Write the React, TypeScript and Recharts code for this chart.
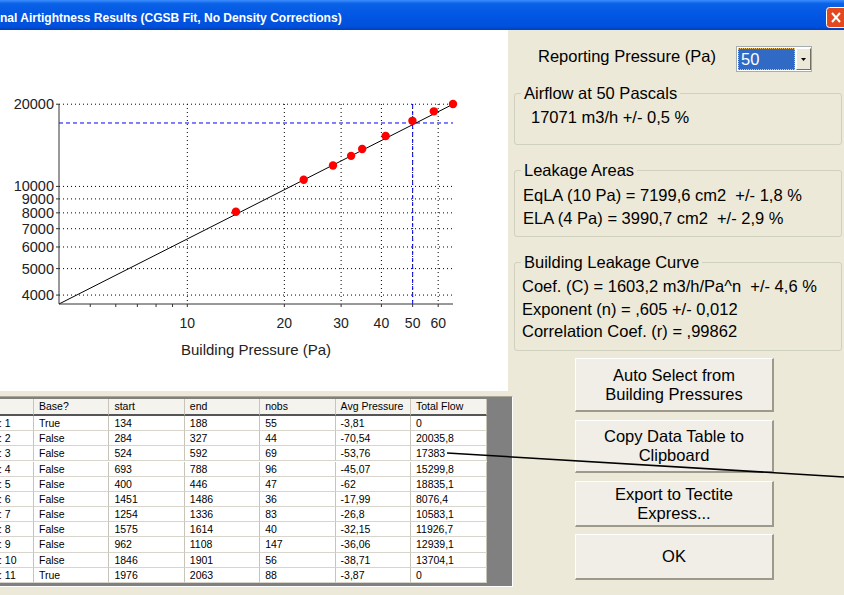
import React from 'react';
import {
  ComposedChart, Scatter, Line, XAxis, YAxis, CartesianGrid, ReferenceLine
} from 'recharts';

// chart values (baseline-corrected building pressure vs. flow)
const pressures = [66.7, 49.92, 41.23, 58.16, 14.15, 22.96, 28.31, 32.22, 34.87];
const flows = [20035.8, 17383, 15299.8, 18835.1, 8076.4, 10583.1, 11926.7, 12939.1, 13704.1];
const fitPressures = [4, 66.7];
const fitFlows = [3710, 20000];
const xTicks = [5, 6, 7, 8, 9, 10, 20, 30, 40, 50, 60];
const xLabelled = [10, 20, 30, 40, 50, 60];
const xGrid = [10, 20, 30, 40, 50, 60];
const yTicks = [4000, 5000, 6000, 7000, 8000, 9000, 10000, 20000];
const reportPressure = 50;
const reportFlow = 17071;

// data table
const tableHeaders = ['', 'Base?', 'start', 'end', 'nobs', 'Avg Pressure', 'Total Flow'];
const rowIds = [1, 2, 3, 4, 5, 6, 7, 8, 9, 10, 11];
const baseFlags = ['True', 'False', 'False', 'False', 'False', 'False', 'False', 'False', 'False', 'False', 'True'];
const starts = [134, 284, 524, 693, 400, 1451, 1254, 1575, 962, 1846, 1976];
const ends = [188, 327, 592, 788, 446, 1486, 1336, 1614, 1108, 1901, 2063];
const nobs = [55, 44, 69, 96, 47, 36, 83, 40, 147, 56, 88];
const avgPressures = ['-3,81', '-70,54', '-53,76', '-45,07', '-62', '-17,99', '-26,8', '-32,15', '-36,06', '-38,71', '-3,87'];
const totalFlows = ['0', '20035,8', '17383', '15299,8', '18835,1', '8076,4', '10583,1', '11926,7', '12939,1', '13704,1', '0'];

const points = pressures.map((p, i) => ({ p, flow: flows[i] }));
const fitData = fitPressures.map((p, i) => ({ p, flow: fitFlows[i] }));

const FONT = '"Liberation Sans", Arial, sans-serif';
const WIN_BG = '#ECE9D8';

const XTick = ({ x, y, payload }: any) =>
  xLabelled.includes(payload.value) ? (
    <text x={x} y={y + 19} textAnchor="middle" fontSize={14} fill="#222" fontFamily={FONT}>
      {payload.value}
    </text>
  ) : <g />;

const YTick = ({ x, y, payload }: any) => (
  <text x={x} y={y + 5} textAnchor="end" fontSize={14.5} fill="#222" fontFamily={FONT}>
    {payload.value}
  </text>
);

const Dot = ({ cx, cy }: any) => <circle cx={cx} cy={cy} r={4.2} fill="#FF0000" />;

const Group = ({ title, top, height, children }: any) => (
  <div style={{
    position: 'absolute', left: 514, top, width: 328, height,
    border: '1px solid #D0D0BF', borderRadius: 3, boxSizing: 'border-box',
  }}>
    <div style={{
      position: 'absolute', left: 6, top: -11, padding: '0 3px', background: WIN_BG,
      fontSize: 16.5, lineHeight: '20px', whiteSpace: 'pre',
    }}>{title}</div>
    {children}
  </div>
);

const Button = ({ top, height, lines }: any) => (
  <div style={{
    position: 'absolute', left: 575, top, width: 199, height, boxSizing: 'border-box',
    background: '#F0EEE6', borderTop: '1px solid #FFFFFF', borderLeft: '1px solid #FFFFFF',
    borderRight: '2px solid #9D9A8C', borderBottom: '2px solid #9D9A8C',
    display: 'flex', flexDirection: 'column', alignItems: 'center', justifyContent: 'center',
    fontSize: 16.5, lineHeight: '19px',
  }}>
    {lines.map((l: string) => <div key={l}>{l}</div>)}
  </div>
);

const colLefts = [-42, 34, 109.4, 184.8, 260.2, 335.6, 411];
const colWidths = [76, 75.4, 75.4, 75.4, 75.4, 75.4, 75.7];

export default function App() {
  const rows = rowIds.map((id, i) => [
    `: ${id}`, baseFlags[i], String(starts[i]), String(ends[i]), String(nobs[i]), avgPressures[i], totalFlows[i],
  ]);
  return (
    <div style={{
      position: 'absolute', left: 0, top: 0, width: 844, height: 595, overflow: 'hidden',
      background: WIN_BG, fontFamily: FONT, color: '#000',
    }}>
      {/* title bar */}
      <div style={{
        position: 'absolute', left: 0, top: 0, width: 844, height: 30,
        background: 'linear-gradient(to bottom, #3C8EFF 0%, #0A62E6 12%, #0256E4 50%, #0050DC 88%, #003FBC 100%)',
      }}>
        <div style={{
          position: 'absolute', left: 0, top: 10, color: '#fff', fontWeight: 'bold',
          fontSize: 13, lineHeight: '16px', whiteSpace: 'nowrap',
          transform: 'scaleX(0.925)', transformOrigin: 'left center',
        }}>nal Airtightness Results (CGSB Fit, No Density Corrections)</div>
        <svg style={{ position: 'absolute', left: 826, top: 7 }} width={20} height={21}>
          <rect x={0.5} y={0.5} width={22} height={20} rx={3} fill="#E2491F" stroke="#fff" />
          <line x1={6} y1={6} x2={14} y2={15} stroke="#fff" strokeWidth={2} />
          <line x1={14} y1={6} x2={6} y2={15} stroke="#fff" strokeWidth={2} />
        </svg>
      </div>

      {/* chart panel */}
      <div style={{ position: 'absolute', left: 0, top: 30, width: 508, height: 361, background: '#fff' }}>
        <ComposedChart width={508} height={360} margin={{ top: 74, right: 55, bottom: 30, left: 0 }}>
          <CartesianGrid stroke="#000" strokeDasharray="1 3"
            horizontalValues={yTicks} verticalValues={xGrid} />
          <XAxis dataKey="p" type="number" scale="log" domain={[4, 66.7]} ticks={xTicks} interval={0}
            height={56} tick={<XTick />} stroke="#333" tickSize={3}
            label={{ value: 'Building Pressure (Pa)', position: 'insideBottom', offset: 5, fontSize: 15, fill: '#222', fontFamily: FONT }} />
          <YAxis type="number" scale="log" domain={[3710, 20000]} ticks={yTicks} interval={0}
            width={59} tick={<YTick />} stroke="#333" tickSize={3} />
          <ReferenceLine x={reportPressure} stroke="#0000FF" strokeDasharray="4 3" />
          <ReferenceLine y={reportFlow} stroke="#0000FF" strokeDasharray="4 3" />
          <Line data={fitData} dataKey="flow" stroke="#000" strokeWidth={1} dot={false} isAnimationActive={false} />
          <Scatter data={points} dataKey="flow" shape={<Dot />} isAnimationActive={false} />
        </ComposedChart>
      </div>

      {/* data grid */}
      <div style={{
        position: 'absolute', left: -4, top: 396, width: 517, height: 191, boxSizing: 'border-box',
        background: '#808080', borderTop: '1px solid #ACA899', borderLeft: '1px solid #ACA899',
        borderRight: '1px solid #fff', borderBottom: '1px solid #fff',
      }} />
      <div style={{ position: 'absolute', left: 0, top: 399, width: 487, height: 184, background: '#fff', overflow: 'hidden' }}>
        {tableHeaders.map((h, c) => (
          <div key={'h' + c} style={{
            position: 'absolute', left: colLefts[c], top: 0, width: colWidths[c], height: 17, boxSizing: 'border-box',
            background: '#F4F3EE', borderRight: '1px solid #C8C5B8', borderBottom: '2px solid #555',
            fontSize: 10.5, lineHeight: '15px', paddingLeft: 5, whiteSpace: 'nowrap',
          }}>{h}</div>
        ))}
        {rows.map((r, i) => r.map((v, c) => (
          <div key={i + '-' + c} style={{
            position: 'absolute', left: colLefts[c], top: 17 + i * 15.17, width: colWidths[c], height: 15.17,
            boxSizing: 'border-box', borderRight: '1px solid #C8C5B8', borderBottom: '1px solid #D8D6CC',
            fontSize: 10.5, lineHeight: '14px', paddingLeft: c === 0 ? 41 : 5, whiteSpace: 'nowrap',
          }}>{v}</div>
        )))}
      </div>

      {/* reporting pressure */}
      <div style={{ position: 'absolute', left: 538, top: 46, fontSize: 16.5, lineHeight: '20px' }}>
        Reporting Pressure (Pa)
      </div>
      <div style={{
        position: 'absolute', left: 736, top: 46, width: 76, height: 26, boxSizing: 'border-box',
        background: '#fff', border: '1px solid #A5ACB2',
      }}>
        <div style={{
          position: 'absolute', left: 1, top: 1, width: 57, height: 22, background: '#316AC5',
          outline: '1px dotted #F0C060', outlineOffset: -1, color: '#fff', fontSize: 16.5, lineHeight: '22px', paddingLeft: 3,
          boxSizing: 'border-box',
        }}>50</div>
        <div style={{
          position: 'absolute', left: 59, top: 1, width: 15, height: 22, background: WIN_BG, boxSizing: 'border-box',
          borderTop: '1px solid #fff', borderLeft: '1px solid #fff', borderRight: '1px solid #716F64', borderBottom: '1px solid #716F64',
        }}>
          <svg width={13} height={20}><path d="M4 9 L9 9 L6.5 12 Z" fill="#000" /></svg>
        </div>
      </div>

      <Group title="Airflow at 50 Pascals" top={93} height={52}>
        <div style={{ position: 'absolute', left: 16, top: 13, fontSize: 16.5, lineHeight: '20px', whiteSpace: 'pre' }}>
          17071 m3/h +/- 0,5 %
        </div>
      </Group>
      <Group title="Leakage Areas" top={170} height={67}>
        <div style={{ position: 'absolute', left: 8, top: 13, fontSize: 16.5, lineHeight: '23px', whiteSpace: 'pre' }}>
          <div>EqLA (10 Pa) = 7199,6 cm2  +/- 1,8 %</div>
          <div>ELA (4 Pa) = 3990,7 cm2  +/- 2,9 %</div>
        </div>
      </Group>
      <Group title="Building Leakage Curve" top={262} height={89}>
        <div style={{ position: 'absolute', left: 7, top: 12, fontSize: 16.5, lineHeight: '22.5px', whiteSpace: 'pre' }}>
          <div>Coef. (C) = 1603,2 m3/h/Pa^n  +/- 4,6 %</div>
          <div>Exponent (n) = ,605 +/- 0,012</div>
          <div>Correlation Coef. (r) = ,99862</div>
        </div>
      </Group>

      <Button top={358} height={54} lines={['Auto Select from', 'Building Pressures']} />
      <Button top={420} height={53} lines={['Copy Data Table to', 'Clipboard']} />
      <Button top={481} height={46} lines={['Export to Tectite', 'Express...']} />
      <Button top={534} height={46} lines={['OK']} />

      {/* stray pen stroke across the dialog */}
      <svg style={{ position: 'absolute', left: 0, top: 0, pointerEvents: 'none' }} width={844} height={595}>
        <line x1={447} y1={453} x2={844} y2={477} stroke="#000" strokeWidth={1.6} />
      </svg>
    </div>
  );
}
